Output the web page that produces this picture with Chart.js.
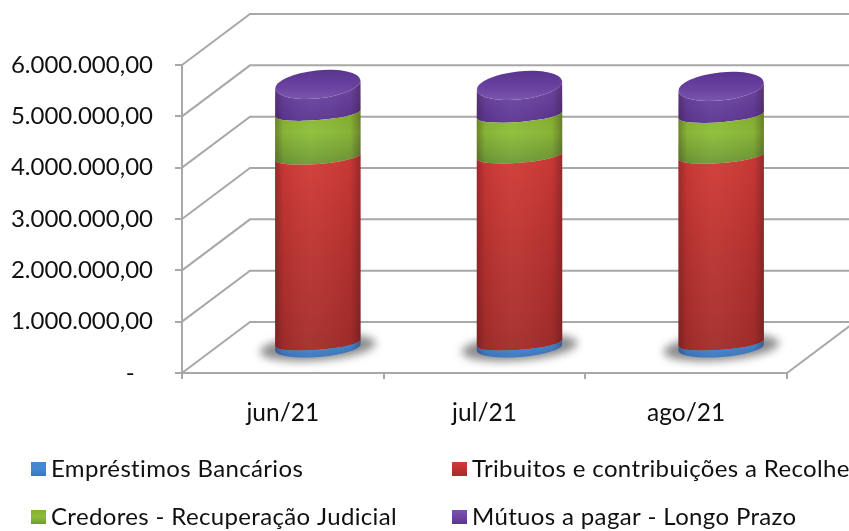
<!DOCTYPE html>
<html><head><meta charset="utf-8">
<style>html,body{margin:0;padding:0;background:#fff}canvas{display:block;filter:blur(0.5px)}</style>
<script src="https://cdn.jsdelivr.net/npm/chart.js@4/dist/chart.umd.min.js"></script>
</head><body><canvas id="c" width="849" height="531"></canvas>
<script>
const categories = ['jun/21','jul/21','ago/21'];
const emprestimos = [110000,110000,110000];
const tributos = [3620000,3645000,3640000];
const credores = [855000,795000,795000];
const mutuos = [560000,575000,560000];
const seriesNames = ['Empréstimos Bancários','Tribuitos e contribuições a Recolhe','Credores - Recuperação Judicial','Mútuos a pagar - Longo Prazo'];
const yTickLabels = ['-\u00a0\u00a0\u00a0','1.000.000,00','2.000.000,00','3.000.000,00','4.000.000,00','5.000.000,00','6.000.000,00'];

const FONT = 'Lato';
const GRID = '#a8a8a8';
const DEPTH_X = 68, DEPTH_Y = -51;
const BAR_DX = 35, BAR_DY = -24.5;
const B_FLOOR = 9.5, B_JOIN = 7, B_CAP = 14;
const ROT_BAND = -4.5 * Math.PI / 180, ROT_CAP = -6 * Math.PI / 180;
const SHADES = [
  {top:'#4587d0',mid:'#4587d0',bot:'#3a76bd'},
  {top:'#d23b37',mid:'#bd3330',bot:'#a32d2a'},
  {top:'#86b030',mid:'#8cbe38',bot:'#6e9a36'},
  {top:'#7a52ad',mid:'#6c44a2',bot:'#5c3692'}
];

class CylinderController extends Chart.BarController {
  draw(){
    const ctx = this.chart.ctx, s = SHADES[this.index];
    const first = this.index === 0;
    const last = this.index === this.chart.data.datasets.length - 1;
    this.getMeta().data.forEach(el => {
      const cx = el.x + BAR_DX, a = el.width / 2;
      const yb = el.base + BAR_DY, yt = el.y + BAR_DY;
      const bb = first ? B_FLOOR : B_JOIN;
      const tb = last ? B_CAP : B_JOIN, tr = last ? ROT_CAP : ROT_BAND;
      ctx.save();
      ctx.beginPath();
      ctx.ellipse(cx,yb,a,bb,ROT_BAND,0,Math.PI,false);
      ctx.ellipse(cx,yt,a,tb,tr,Math.PI,0,true);
      ctx.closePath();
      ctx.clip();
      const v = ctx.createLinearGradient(0,yt-tb,0,yb+bb);
      v.addColorStop(0,s.top); v.addColorStop(.45,s.mid); v.addColorStop(1,s.bot);
      ctx.fillStyle = v;
      ctx.fillRect(cx-a-2,yt-tb-8,2*a+4,yb-yt+tb+bb+16);
      const h = ctx.createLinearGradient(cx-a,0,cx+a,0);
      h.addColorStop(0,'rgba(40,10,20,.32)'); h.addColorStop(.1,'rgba(40,10,20,.06)');
      h.addColorStop(.4,'rgba(255,255,255,.04)'); h.addColorStop(.88,'rgba(40,10,20,.06)');
      h.addColorStop(1,'rgba(40,10,20,.34)');
      ctx.fillStyle = h;
      ctx.fillRect(cx-a-2,yt-tb-8,2*a+4,yb-yt+tb+bb+16);
      ctx.restore();
      if (last) {
        ctx.beginPath();
        ctx.ellipse(cx,yt,a,B_CAP,ROT_CAP,0,Math.PI*2);
        const c = ctx.createLinearGradient(0,yt-B_CAP,0,yt+B_CAP);
        c.addColorStop(0,'#5a3590'); c.addColorStop(.6,'#6a43a0'); c.addColorStop(1,'#7a55ad');
        ctx.fillStyle = c; ctx.fill();
      }
    });
  }
}
CylinderController.id = 'cylinder';
CylinderController.defaults = Chart.BarController.defaults;
Chart.register(CylinderController);

const walls = {
  id:'walls',
  beforeDatasetsDraw(chart){
    const {ctx,scales:{x,y}} = chart, W = chart.width;
    ctx.save();
    ctx.strokeStyle = GRID; ctx.lineWidth = 2; ctx.lineJoin='miter';
    y.ticks.forEach(t => {
      const py = y.getPixelForValue(t.value), px = x.left;
      ctx.beginPath();
      ctx.moveTo(px,py);
      ctx.lineTo(px+DEPTH_X,py+DEPTH_Y);
      ctx.lineTo(W,py+DEPTH_Y);
      ctx.stroke();
    });
    const py0 = y.getPixelForValue(0);
    ctx.beginPath();
    ctx.moveTo(x.right,py0);
    ctx.lineTo(x.right+DEPTH_X,py0+DEPTH_Y);
    ctx.stroke();
    chart.getDatasetMeta(0).data.forEach(el => {
      ctx.save();
      ctx.filter = 'blur(4px)';
      ctx.fillStyle = 'rgba(80,80,80,.66)';
      ctx.beginPath();
      ctx.ellipse(el.x+BAR_DX,el.base+BAR_DY,el.width/2+15,13,ROT_BAND,0,Math.PI*2);
      ctx.fill();
      ctx.restore();
    });
    ctx.restore();
  }
};
const sideLegend = {
  id:'sideLegend',
  afterDraw(chart){
    const ctx = chart.ctx;
    const cols = [31,452], rows = [469,517];
    seriesNames.forEach((name,i) => {
      const x = cols[i%2], y = rows[Math.floor(i/2)], s = SHADES[i];
      const g = ctx.createLinearGradient(0,y-7,0,y+7);
      g.addColorStop(0,s.top); g.addColorStop(.5,s.mid); g.addColorStop(1,s.bot);
      ctx.save();
      ctx.fillStyle = g;
      ctx.fillRect(x,y-7,15,14);
      ctx.fillStyle = '#111';
      ctx.font = '24px '+FONT;
      ctx.textAlign='left'; ctx.textBaseline='middle';
      ctx.letterSpacing = '0.35px';
      ctx.fillText(name,x+20,y);
      ctx.restore();
    });
  }
};
const mk = (label,data) => ({label,data,backgroundColor:SHADES[seriesNames.indexOf(label)].mid,clip:false});
new Chart(document.getElementById('c'),{
  type:'cylinder',
  data:{labels:categories,datasets:[
    mk(seriesNames[0],emprestimos),mk(seriesNames[1],tributos),
    mk(seriesNames[2],credores),mk(seriesNames[3],mutuos)]},
  plugins:[walls,sideLegend],
  options:{
    responsive:false,animation:false,
    layout:{autoPadding:false,padding:{top:65,right:62,left:0,bottom:0}},
    plugins:{legend:{display:false},tooltip:{enabled:false}},
    datasets:{cylinder:{categoryPercentage:1,barPercentage:.425}},
    scales:{
      x:{stacked:true,offset:true,
        grid:{drawOnChartArea:false,offset:true,color:GRID,lineWidth:2,tickLength:6,tickColor:GRID},
        border:{color:GRID,width:2},
        ticks:{color:'#111',font:{family:FONT,size:24.5},padding:19,maxRotation:0},
        afterFit(s){s.height=158;}},
      y:{stacked:true,min:0,max:6000000,
        grid:{drawOnChartArea:false,color:GRID,lineWidth:2,tickLength:7,tickColor:GRID},
        border:{color:GRID,width:2},
        ticks:{stepSize:1000000,color:'#111',font:{family:FONT,size:24},padding:22,
          callback:v=>yTickLabels[Math.round(v/1000000)]},
        afterFit(s){s.width=182;}}
    }
  }
});
</script></body></html>
